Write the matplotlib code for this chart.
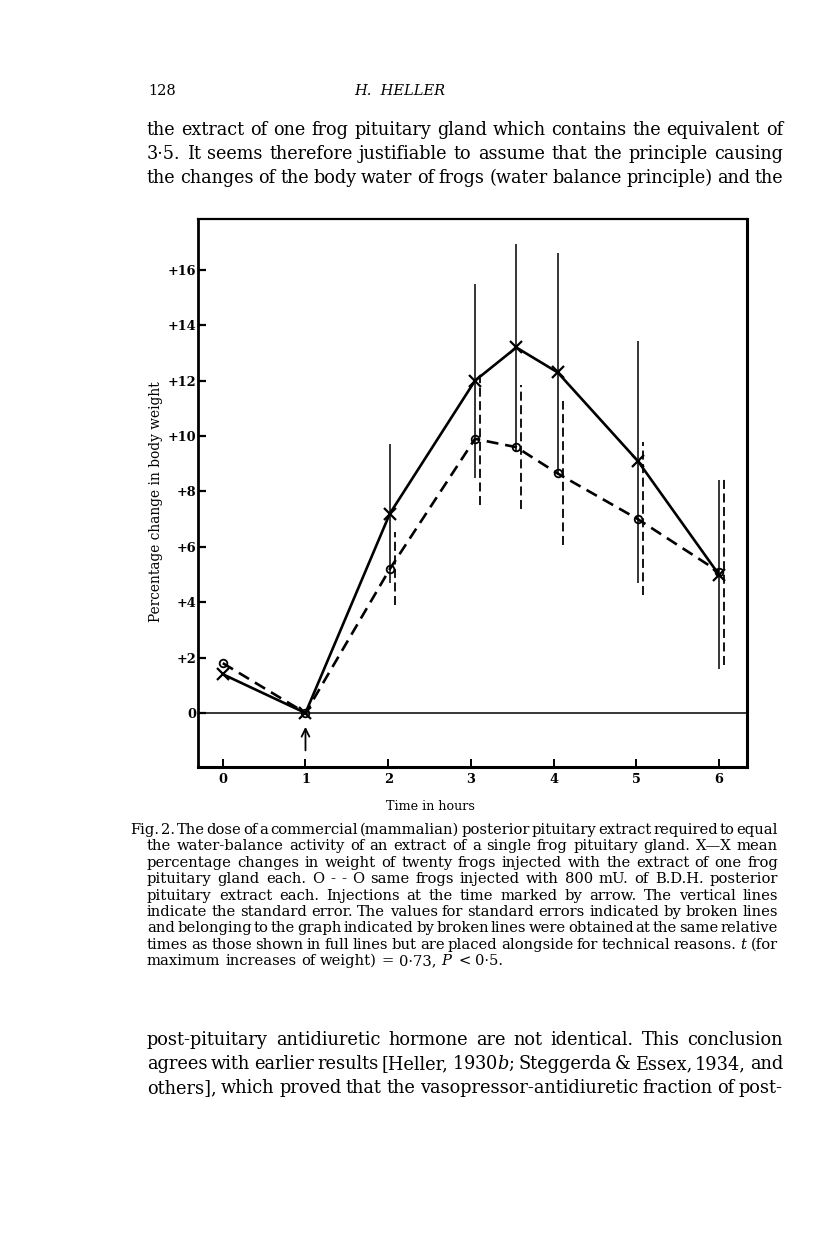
import numpy as np
import matplotlib
matplotlib.use('Agg')
import matplotlib.pyplot as plt
import matplotlib.transforms as mtransforms

plt.rcParams['font.family'] = ['DejaVu Serif']
plt.rcParams['mathtext.fontset'] = 'dejavuserif'

W, H = 816, 1234

# data (hours, % change of body weight)
times = [0, 1, 2.02, 3.05, 3.55, 4.05, 5.02, 6.0]
frog_mean = [1.4, 0.0, 7.2, 12.0, 13.2, 12.3, 9.1, 5.0]
bdh_mean = [1.8, 0.0, 5.2, 9.9, 9.6, 8.65, 7.0, 5.1]

# standard errors (only from 2 h onwards)
se_times = times[2:]
frog_se_lo = [4.7, 8.5, 9.45, 8.6, 4.7, 1.6]
frog_se_hi = [9.7, 15.5, 16.95, 16.6, 13.45, 8.4]
bdh_se_lo = [3.9, 7.5, 7.35, 6.05, 4.25, 1.75]
bdh_se_hi = [6.55, 12.1, 11.85, 11.25, 9.8, 8.55]

inject_time = 1
yticks = [0, 2, 4, 6, 8, 10, 12, 14, 16]
ytick_labels = ['0', '+2', '+4', '+6', '+8', '+10', '+12', '+14', '+16']
xticks = [0, 1, 2, 3, 4, 5, 6]

top_lines = [
    "the extract of one frog pituitary gland which contains the equivalent of",
    "3·5.  It seems therefore justifiable to assume that the principle causing",
    "the changes of the body water of frogs (water balance principle) and the",
]
caption_lines = [
    "Fig. 2.  The dose of a commercial (mammalian) posterior pituitary extract required to equal",
    "the water-balance activity of an extract of a single frog pituitary gland.  X—X mean",
    "percentage changes in weight of twenty frogs injected with the extract of one frog",
    "pituitary gland each.  O\u00a0-\u00a0-\u00a0O same frogs injected with 800 mU. of B.D.H. posterior",
    "pituitary extract each.  Injections at the time marked by arrow. The vertical lines",
    "indicate the standard error. The values for standard errors indicated by broken lines",
    "and belonging to the graph indicated by broken lines were obtained at the same relative",
    "times as those shown in full lines but are placed alongside for technical reasons.  $t$ (for",
    "maximum increases of weight)\u00a0=\u00a00·73, $P$\u00a0<\u00a00·5.",
]
bottom_lines = [
    "post-pituitary antidiuretic hormone are not identical. This conclusion",
    "agrees with earlier results [Heller, 1930$b$; Steggerda & Essex, 1934, and",
    "others], which proved that the vasopressor-antidiuretic fraction of post-",
]

fig = plt.figure(figsize=(W / 100, H / 100), dpi=100)
fig.patch.set_facecolor('white')


def px(x, y):
    return x / W, 1 - y / H


def justify(lines, x0, x1, y0, dy, size, last_ragged=False, first_x=None):
    # fit the font so that lines come out near their natural width, then justify
    r = fig.canvas.get_renderer()
    rows = []
    ratios = []
    for i, line in enumerate(lines):
        words = line.split()
        ts = [fig.text(0, 0, w, fontsize=size, va='baseline') for w in words]
        left = x0 if (first_x is None or i > 0) else first_x
        rows.append((ts, left))
        if not (last_ragged and i == len(lines) - 1):
            ws = sum(t.get_window_extent(r).width for t in ts)
            nat = ws + 0.32 * size * 100 / 72 * (len(words) - 1)
            ratios.append((x1 - left) / nat)
    size = size * np.mean(ratios)
    for i, (ts, left) in enumerate(rows):
        for t in ts:
            t.set_fontsize(size)
        ws = [t.get_window_extent(r).width for t in ts]
        ragged = last_ragged and i == len(lines) - 1
        if ragged or len(ts) == 1:
            gap = 0.32 * size * 100 / 72
        else:
            gap = (x1 - left - sum(ws)) / (len(ts) - 1)
        x = left
        for t, w in zip(ts, ws):
            t.set_position(px(x, y0 + i * dy))
            x += w + gap


# page header and running text
fig.text(*px(148, 95), '128', fontsize=10.5, va='baseline')
fig.text(*px(400, 95), 'H.  HELLER', fontsize=10.5, style='italic',
         ha='center', va='baseline')
justify(top_lines, 147, 783, 135, 24, 10.4)
justify(caption_lines, 147, 778, 834, 16.4, 8.3, last_ragged=True, first_x=130)
justify(bottom_lines, 147, 783, 1045, 24, 10.4)

# the graph
ax = fig.add_axes([198 / W, 1 - 767 / H, (747 - 198) / W, (767 - 219) / H])
ax.set_xlim(-0.3, 6.34)
ax.set_ylim(-1.95, 17.84)

shift = mtransforms.offset_copy(ax.transData, fig=fig, x=5, y=0, units='dots')

ax.vlines(se_times, frog_se_lo, frog_se_hi, color='black', lw=1.1)
ax.vlines(se_times, bdh_se_lo, bdh_se_hi, color='black', lw=1.3,
          linestyles=[(0, (5, 2.5))], transform=shift)

ax.plot(times, frog_mean, color='black', lw=1.9, marker='x', ms=8, mew=1.6,
        zorder=3)
ax.plot(times, bdh_mean, color='black', lw=1.9, ls=(0, (4.5, 2.6)),
        marker='o', ms=5.5, mfc='none', mew=1.3, zorder=3)

ax.axhline(0, color='black', lw=1.1)
ax.annotate('', xy=(inject_time, -0.4), xytext=(inject_time, -1.45),
            arrowprops=dict(arrowstyle='->', lw=1.3, color='black',
                            mutation_scale=14))

ax.set_yticks(yticks)
ax.set_yticklabels(ytick_labels, fontweight='bold', fontsize=9.3)
ax.set_xticks(xticks)
ax.set_xticklabels([str(t) for t in xticks], fontweight='bold', fontsize=9.3)
ax.tick_params(axis='y', direction='in', length=6, width=1.6, pad=1)
ax.tick_params(axis='x', direction='in', length=6, width=1.4, pad=4)

for side, lw in [('left', 2.0), ('bottom', 2.2), ('top', 1.6), ('right', 2.2)]:
    ax.spines[side].set_linewidth(lw)

fig.text(*px(430, 806), 'Time in hours', fontsize=9.2, ha='center', va='center')
fig.text(*px(156, 502), 'Percentage change in body weight', fontsize=9.9,
         rotation=90, ha='center', va='center')

fig.savefig('out.png', dpi=100, facecolor='white')
